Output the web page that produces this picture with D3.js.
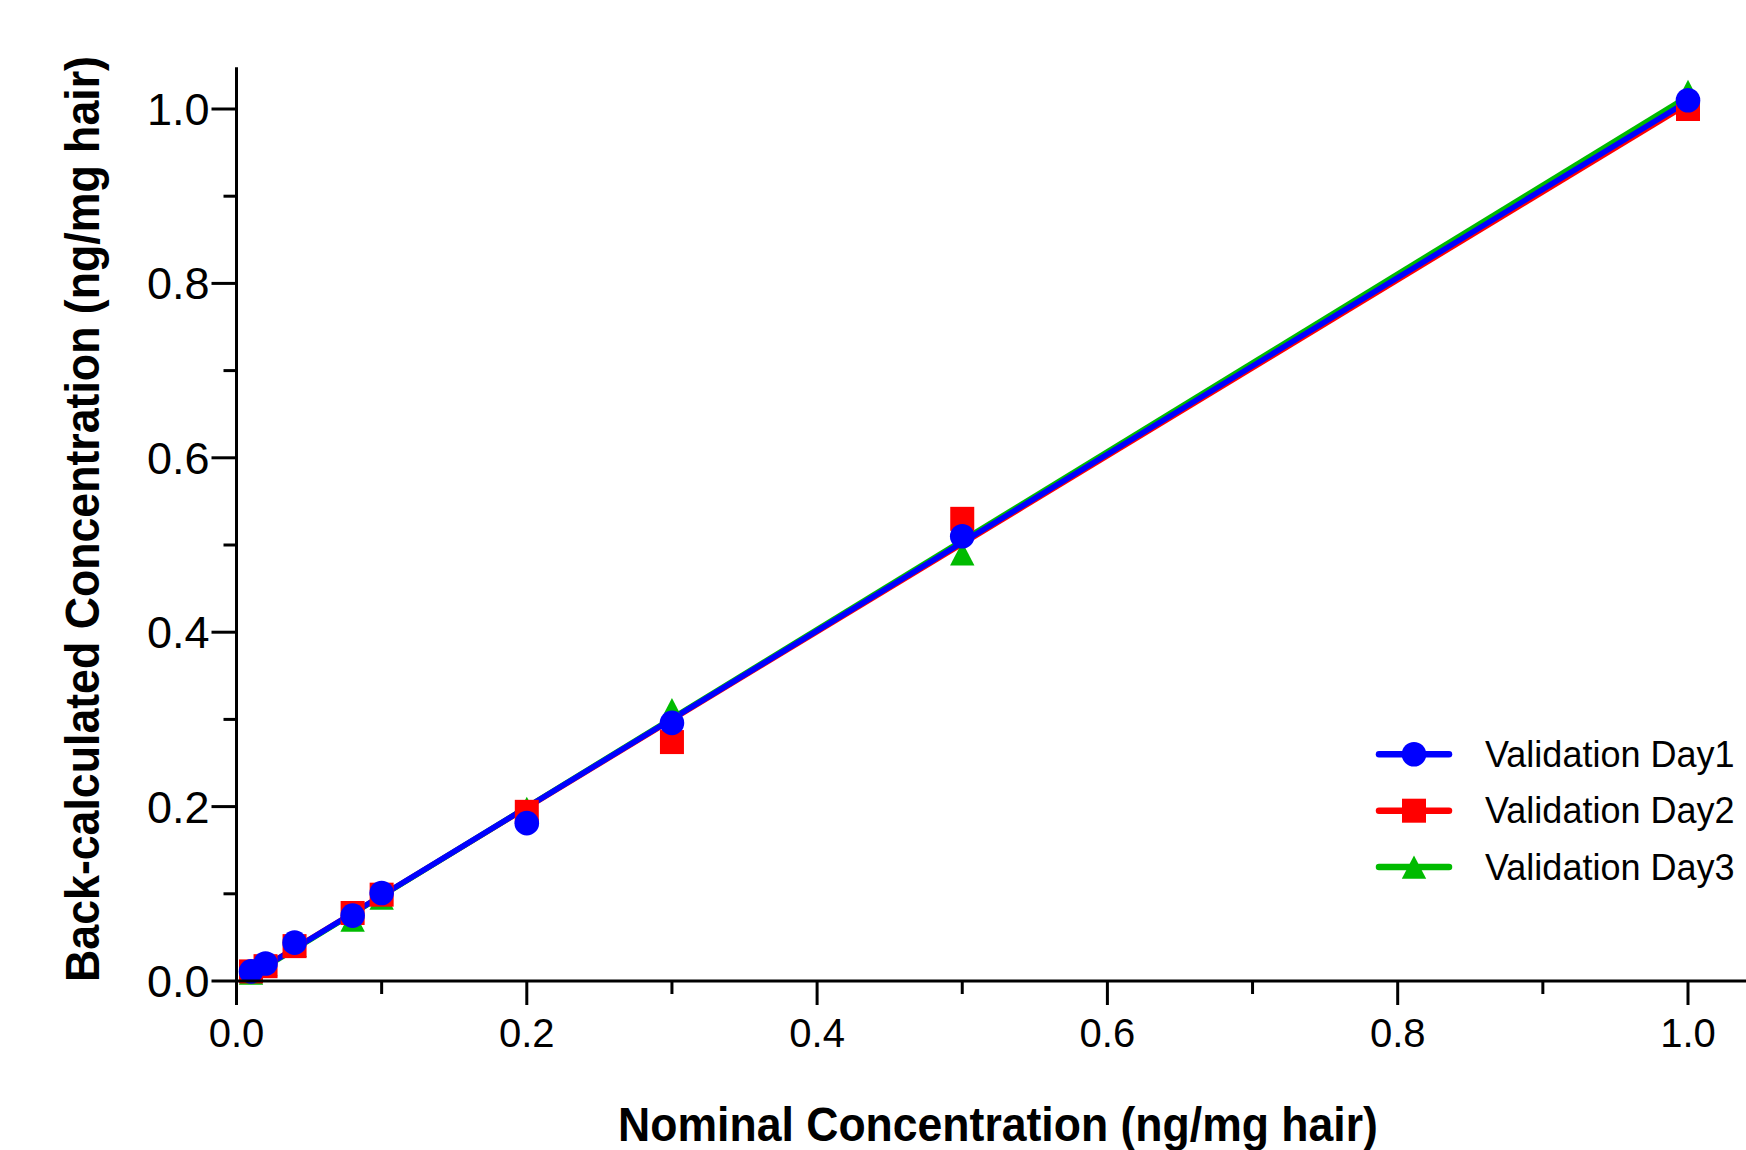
<!DOCTYPE html>
<html>
<head>
<meta charset="utf-8">
<script src="https://cdn.jsdelivr.net/npm/d3@7"></script>
<style>
  html, body { margin: 0; padding: 0; background: #fff; }
  svg { display: block; }
</style>
</head>
<body>
<svg id="chart" width="1746" height="1150"></svg>
<script>
// ---- Data ----
const nominal = [0.01, 0.02, 0.04, 0.08, 0.1, 0.2, 0.3, 0.5, 1.0];
const day1 = [0.011, 0.020, 0.044, 0.075, 0.101, 0.181, 0.296, 0.510, 1.010];
const day2 = [0.011, 0.017, 0.040, 0.078, 0.099, 0.194, 0.274, 0.530, 1.000];
const day3 = [0.009, 0.019, 0.041, 0.070, 0.095, 0.198, 0.311, 0.490, 1.020];
const seriesNames = ["Validation Day1", "Validation Day2", "Validation Day3"];
const xTickLabels = ["0.0", "0.2", "0.4", "0.6", "0.8", "1.0"];
const yTickLabels = ["0.0", "0.2", "0.4", "0.6", "0.8", "1.0"];

const colors = ["#0000FF", "#FF0000", "#00BB00"];
const shapes = ["circle", "square", "triangle"];
const seriesValues = [day1, day2, day3];

const svg = d3.select("#chart");
const x0 = 236.5, x1 = 1688, y0 = 981, y1 = 109;
const x = d3.scaleLinear().domain([0, 1]).range([x0, x1]);
const y = d3.scaleLinear().domain([0, 1]).range([y0, y1]);
const yMax = 1.048;

// ---- regression lines ----
function fit(xs, ys) {
  const n = xs.length, mx = d3.mean(xs), my = d3.mean(ys);
  let sxy = 0, sxx = 0;
  for (let i = 0; i < n; i++) { sxy += (xs[i]-mx)*(ys[i]-my); sxx += (xs[i]-mx)**2; }
  const b = sxy / sxx, a = my - b * mx;
  return t => a + b * t;
}
const lineG = svg.append("g");
const drawOrder = [1, 2, 0];
const xr = d3.extent(nominal);
drawOrder.forEach(i => {
  const f = fit(nominal, seriesValues[i]);
  lineG.append("path")
    .attr("d", d3.line().x(d => x(d)).y(d => y(f(d)))(xr))
    .attr("stroke", colors[i]).attr("stroke-width", 5.5).attr("fill", "none");
});

// ---- markers ----
function marker(g, shape, color, cx, cy) {
  if (shape === "circle") {
    g.append("circle").attr("cx", cx).attr("cy", cy).attr("r", 12.3).attr("fill", color);
  } else if (shape === "square") {
    g.append("rect").attr("x", cx - 12).attr("y", cy - 12).attr("width", 24).attr("height", 24).attr("fill", color);
  } else {
    g.append("path").attr("transform", `translate(${cx},${cy})`)
      .attr("d", "M0,-11.7L12.2,11.7L-12.2,11.7Z").attr("fill", color);
  }
}
const markG = svg.append("g");
[2, 1, 0].forEach(i => {
  nominal.forEach((n, j) => marker(markG, shapes[i], colors[i], x(n), y(seriesValues[i][j])));
});

// ---- axes ----
const axG = svg.append("g").attr("stroke", "#000").attr("stroke-width", 3);
axG.append("line").attr("x1", x0).attr("x2", 1746).attr("y1", y0).attr("y2", y0);
axG.append("line").attr("x1", x0).attr("x2", x0).attr("y1", y0).attr("y2", y(yMax));
const ticks = d3.range(0, 11).map(i => i / 10);
ticks.forEach((t, i) => {
  const major = i % 2 === 0;
  axG.append("line").attr("x1", x(t)).attr("x2", x(t)).attr("y1", y0).attr("y2", y0 + (major ? 24 : 13));
  axG.append("line").attr("y1", y(t)).attr("y2", y(t)).attr("x1", x0).attr("x2", x0 - (major ? 25 : 13));
});
const textFont = "'Liberation Sans', Arial, sans-serif";
xTickLabels.forEach((lab) => {
  svg.append("text").attr("x", x(+lab)).attr("y", 1047).attr("text-anchor", "middle")
    .attr("font-family", textFont).attr("font-size", 40).attr("fill", "#000").text(lab);
});
yTickLabels.forEach((lab) => {
  svg.append("text").attr("x", x0 - 27).attr("y", y(+lab) + 16).attr("text-anchor", "end")
    .attr("font-family", textFont).attr("font-size", 45).attr("fill", "#000").text(lab);
});

// ---- titles (condensed bold via horizontal scale) ----
const titleFont = "'Liberation Sans Narrow', 'Arial Narrow', 'Liberation Sans', Arial, sans-serif";
function condensedTitle(txt, tx, ty, rot, targetLen) {
  const g = svg.append("g").attr("transform", `translate(${tx},${ty}) rotate(${rot})`);
  const t = g.append("text").attr("x", 0).attr("y", 0).attr("text-anchor", "middle")
    .attr("font-family", titleFont).attr("font-weight", "bold").attr("font-size", 48)
    .attr("fill", "#000").text(txt);
  const natural = t.node().getComputedTextLength();
  t.attr("transform", `scale(${targetLen / natural},1)`);
}
condensedTitle("Nominal Concentration (ng/mg hair)", 998, 1141, 0, 760);
condensedTitle("Back-calculated Concentration (ng/mg hair)", 99, 519, -90, 926);

// ---- legend ----
const legG = svg.append("g");
seriesNames.forEach((name, i) => {
  const cy = 754.3 + i * 56.4;
  legG.append("line").attr("x1", 1379).attr("x2", 1449).attr("y1", cy).attr("y2", cy)
    .attr("stroke", colors[i]).attr("stroke-width", 6.5).attr("stroke-linecap", "round");
  marker(legG, shapes[i], colors[i], 1414, cy);
  legG.append("text").attr("x", 1485).attr("y", cy + 12.6)
    .attr("font-family", textFont).attr("font-size", 36).attr("fill", "#000").text(name);
});
</script>
</body>
</html>
